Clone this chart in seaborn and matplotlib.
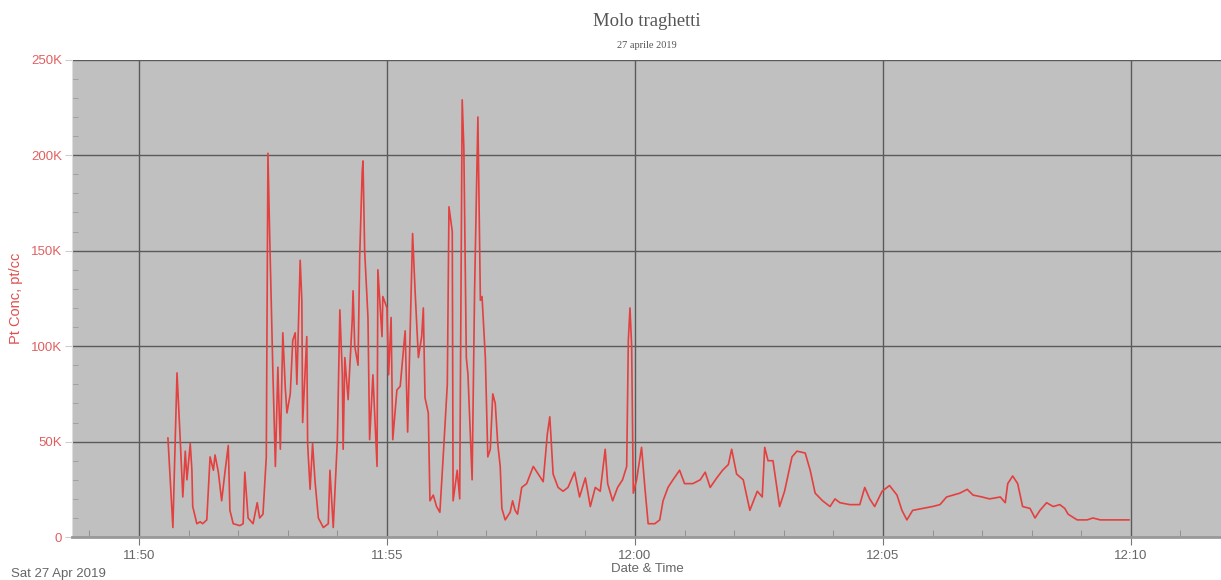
import pandas as pd
import matplotlib
matplotlib.use("Agg")
import matplotlib.pyplot as plt
import matplotlib.ticker as mticker
import seaborn as sns

# seconds after 11:50:00 and particle concentration in thousands (pt/cc)
seconds = [35, 41, 46, 50, 53, 56, 58, 62, 64, 65, 70, 74, 77, 82, 86, 90, 92, 96,
           100, 104, 108, 110, 114, 122, 126, 128, 132, 138, 143, 146, 150, 154, 156,
           158, 162, 165, 168, 171, 174, 177, 179, 183, 186, 189, 191, 195, 197, 198,
           203, 204, 207, 210, 213, 217, 223, 229, 231, 235, 240, 243, 246, 247, 249,
           253, 258, 259, 261, 265, 267, 270, 271, 273, 277, 279, 283, 288, 289, 294,
           295, 300, 302, 305, 307, 312, 316, 322, 325, 328, 331, 334, 338, 342, 344,
           346, 350, 352, 356, 360, 364, 368, 373, 375, 379, 380, 385, 388, 391, 393,
           396, 398, 403, 406, 410, 413, 415, 419, 422, 425, 428, 431, 434, 437, 439,
           443, 449, 452, 455, 458, 463, 469, 477, 483, 489, 494, 497, 501, 507, 513,
           519, 527, 533, 540, 546, 552, 558, 564, 567, 573, 579, 585, 590, 592, 594,
           596, 598, 602, 608, 612, 616, 624, 630, 634, 640, 646, 654, 660, 670, 679,
           685, 691, 699, 706, 713, 717, 723, 731, 739, 748, 754, 757, 761, 767, 775,
           781, 790, 796, 806, 812, 818, 827, 836, 842, 848, 860, 872, 878, 884, 890,
           899, 908, 917, 923, 929, 936, 948, 960, 969, 977, 985, 993, 1002, 1009,
           1020, 1029, 1042, 1048, 1051, 1057, 1063, 1069, 1078, 1084, 1090, 1098,
           1106, 1114, 1120, 1124, 1135, 1147, 1154, 1163, 1183, 1198]
conc_k = [52, 5, 86, 50, 21, 45, 30, 49, 35, 16, 7, 8, 7, 9, 42, 35, 43, 34,
          19, 34, 48, 14, 7, 6, 7, 34, 10, 7, 18, 10, 12, 42, 201,
          160, 86, 37, 89, 46, 107, 78, 65, 75, 103, 107, 80, 145, 124, 60,
          105, 49, 25, 49, 29, 10, 5, 7, 35, 5, 51, 119, 85, 46, 94,
          72, 114, 129, 100, 90, 147, 191, 197, 150, 115, 51, 85, 37, 140, 105,
          126, 120, 85, 115, 51, 77, 79, 108, 55, 108, 159, 129, 94, 105, 120,
          73, 65, 19, 22, 16, 13, 42, 80, 173, 160, 19, 35, 20, 229, 204,
          94, 85, 30, 129, 220, 124, 126, 94, 42, 46, 75, 70, 49, 37, 15,
          9, 13, 19, 14, 12, 26, 28, 37, 33, 29, 54, 63, 33, 26, 24,
          26, 34, 21, 31, 16, 26, 24, 46, 28, 19, 26, 30, 37, 103, 120,
          100, 23, 30, 47, 26, 7, 7, 9, 19, 26, 30, 35, 28, 28, 30,
          34, 26, 31, 35, 38, 46, 33, 30, 14, 24, 21, 47, 40, 40, 16,
          24, 42, 45, 44, 35, 23, 19, 16, 20, 18, 17, 17, 26, 20, 16,
          24, 27, 22, 14, 9, 14, 15, 16, 17, 21, 22, 23, 25, 22,
          21, 20, 21, 18, 28, 32, 28, 16, 15, 10, 14, 18,
          16, 17, 15, 12, 9, 9, 10, 9, 9, 9]

y_ticks = [0, 50000, 100000, 150000, 200000, 250000]
x_ticks = [0, 300, 600, 900, 1200]
x_labels = ["11:50", "11:55", "12:00", "12:05", "12:10"]

df = pd.DataFrame({"t": seconds, "conc": [v * 1000 for v in conc_k]})

sns.set_style("white")
plt.rcParams["font.family"] = ["Liberation Sans", "DejaVu Sans"]

red = "#e4403f"
fig = plt.figure(figsize=(12.21, 5.80), dpi=100)
ax = fig.add_axes([0.059, 0.074, 0.941, 0.823])
ax.set_facecolor("#c0c0c0")

sns.lineplot(data=df, x="t", y="conc", color=red, linewidth=1.2, ax=ax)

ax.set_xlim(-81, 1309)
ax.set_ylim(0, 250000)
ax.set_xticks(x_ticks)
ax.set_xticklabels(x_labels)
ax.xaxis.set_minor_locator(mticker.MultipleLocator(60))
ax.set_yticks(y_ticks)
ax.yaxis.set_major_formatter(mticker.FuncFormatter(lambda v, p: "0" if v == 0 else f"{int(v / 1000)}K"))
ax.yaxis.set_minor_locator(mticker.MultipleLocator(10000))

ax.grid(True, which="major", color="#5a5a5a", linewidth=1.0)
ax.set_axisbelow(True)

ax.tick_params(which="both", bottom=True, left=True)
ax.tick_params(axis="x", which="major", direction="out", length=6, color="#777777",
               labelsize=9.5, labelcolor="#666666", pad=3)
ax.tick_params(axis="x", which="minor", direction="in", length=5, color="#8a8a8a")
ax.tick_params(axis="y", which="major", direction="out", length=5, color="#cccccc",
               labelsize=9.5, labelcolor="#e06060", pad=2)
ax.tick_params(axis="y", which="minor", direction="in", length=4, color="#9a9a9a")

for side in ["top", "right"]:
    ax.spines[side].set_visible(False)
ax.spines["left"].set_color("#dddddd")
ax.spines["bottom"].set_color("#999999")
ax.spines["bottom"].set_linewidth(2)

ax.set_xlabel("")
ax.set_ylabel("Pt Conc, pt/cc", color="#e05050", fontsize=10.5, labelpad=6)

fig.text(0.53, 0.013, "Date & Time", ha="center", fontsize=9.5, color="#666666")
fig.text(0.009, 0.005, "Sat 27 Apr 2019", ha="left", fontsize=9.5, color="#666666")
fig.text(0.53, 0.955, "Molo traghetti", ha="center", fontsize=13.5, color="#555555",
         family="Liberation Serif")
fig.text(0.53, 0.918, "27 aprile 2019", ha="center", fontsize=7.5, color="#555555",
         family="Liberation Serif")

fig.savefig("out.png", dpi=100)
